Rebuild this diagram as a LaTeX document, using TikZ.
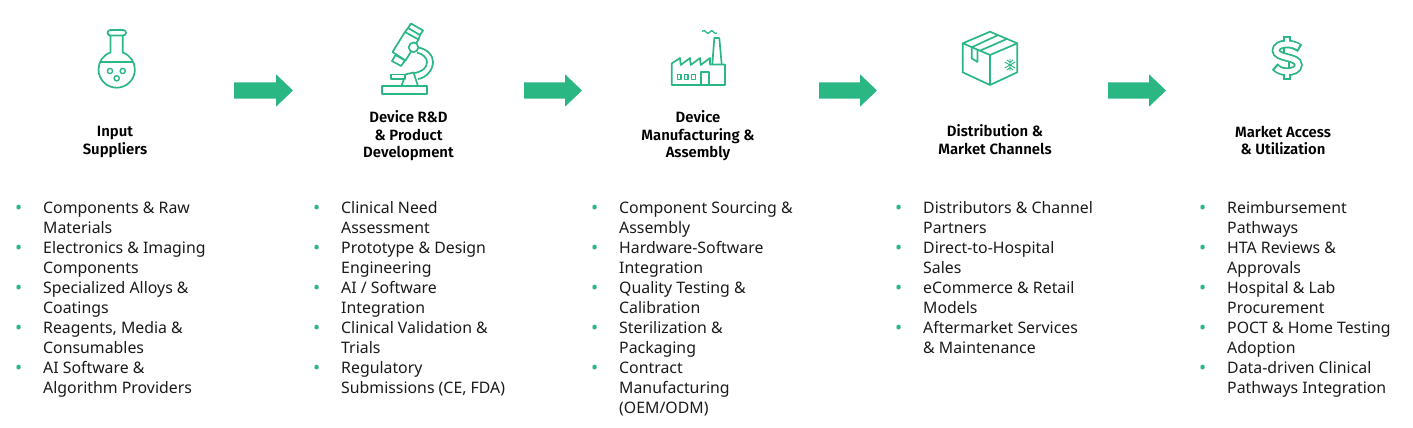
\documentclass[tikz,border=0pt]{standalone}
\usepackage{fontspec}
\setmainfont{Noto Sans}
\newfontfamily\headfont{Fira Sans}[BoldFont={Fira Sans SemiBold}]
\definecolor{tgreen}{HTML}{2BB784}
\definecolor{ink}{HTML}{1A1A1A}
\newcommand{\bl}{\rule{0pt}{16pt}\llap{\makebox[28pt][l]{\textcolor{tgreen}{\fontsize{19}{20}\selectfont\raisebox{-1.2pt}{•}}}}}
\tikzset{
  icon/.style={draw=tgreen,line width=1.7pt,line join=round,fill=none},
  head/.style={font=\fontsize{14.9}{17.5}\headfont\selectfont\bfseries,align=center,text=black,inner sep=0pt},
  lst/.style={font=\fontsize{15.85}{20}\selectfont,align=left,anchor=north west,text=ink,inner sep=0pt},
}
\newcommand{\bigarrow}[2]{\fill[tgreen] (#1,82.3) -- (#2-17,82.3) -- (#2-17,74.3) -- (#2,90.5) -- (#2-17,106.7) -- (#2-17,98.7) -- (#1,98.7) -- cycle;}
\newcommand{\spath}[2]{(#1) .. controls (1295,45) and (1291,44) .. (1287,44) .. controls (1280,44) and (1276,46.5) .. (1276,50.5) .. controls (1276,54.5) and (1281,56) .. (1287,57.5) .. controls (1293,59) and (1298.3,60.5) .. (1298.3,65) .. controls (1298.3,69.5) and (1293,71.7) .. (1287,71.7) .. controls (1282,71.7) and (1278,70) .. (#2)}
\begin{document}
\begin{tikzpicture}[x=1pt,y=-1pt]
\useasboundingbox (0,0) rectangle (1413,428);
% arrows
\bigarrow{234}{293}
\bigarrow{524}{582}
\bigarrow{819}{877}
\bigarrow{1108}{1166}
% flask
\draw[icon,rounded corners=2.8pt] (107.5,30) rectangle (126,35.5);
\draw[icon] (110.5,35.5) -- (110.5,52.5) .. controls (103,55) and (98.5,62) .. (98.5,69.5)
  arc[start angle=180,end angle=0,radius=18.2] .. controls (134.9,62) and (130,55) .. (122.7,52.5) -- (122.7,35.5);
\draw[icon] (100,61.7) -- (133.4,61.7);
\draw[icon,line width=1.4pt] (110,71) circle (2.6) (122.7,71) circle (2.6) (116.7,78.3) circle (2.6);
% microscope
\draw[icon] (381.7,86) rectangle (426.7,94);
\draw[icon] (391,74.5) rectangle (405,79);
\draw[icon] (404,79) -- (401.5,86) (418,86) -- (413.5,72.5) -- (405,74.5);
\draw[icon] (405,32) -- (418.5,39.5) -- (405.5,60.5) -- (392.5,52) -- cycle;
\draw[icon] (411,23.5) -- (423,30.5) -- (420,35) -- (408,28) -- cycle;
\draw[icon] (408,28) -- (405,32) (420,35) -- (418.5,39.5);
\draw[icon] (395.5,55) -- (405,60.5) -- (401,66) -- (392,61) -- cycle;
\draw[icon,fill=white] (413.5,47.3) circle (4.8);
\draw[icon] (418,47.5) .. controls (428,49) and (433,56) .. (433,62) .. controls (433,70) and (426,78) .. (418,79);
\draw[icon] (417,52.5) .. controls (423,54) and (427,58) .. (427,62) .. controls (427,68) and (422,72) .. (414,73);
% factory
\draw[icon] (671.7,85) -- (671.7,63.5) -- (680,58) -- (680.7,65) -- (690,58) -- (690.7,65) -- (700,58) -- (700.7,65) -- (710,58) -- (710,64.5) -- (725,64.5) -- (725,85) -- cycle;
\draw[icon] (712.3,64.5) -- (714.3,38) -- (719.3,38) -- (721.7,64.5);
\draw[icon] (701,85) -- (701,72.3) -- (709,72.3) -- (709,85);
\draw[icon,line width=1.3pt] (677.5,74.5) rectangle (681,79.5) (684.5,74.5) rectangle (688,79.5) (691.7,74.5) rectangle (695.5,79.5);
\draw[icon,line width=1.3pt] (702,31.5) .. controls (703.5,30) and (705,30) .. (706,32) .. controls (707,34) and (708.5,34) .. (710,32) .. controls (711,30) and (712.5,30) .. (713.5,32) .. controls (714.5,34) and (716,33.5) .. (717,33);
% box
\draw[icon] (990,31.7) -- (1017.3,43.3) -- (990,55) -- (962.7,43.3) -- cycle;
\draw[icon] (962.7,43.3) -- (962.7,72.3) -- (990,85) -- (1017.3,72.3) -- (1017.3,43.3);
\draw[icon] (990,55) -- (990,85);
\draw[icon] (971.7,47.3) -- (998.3,35) (980,50.7) -- (1006.7,39);
\draw[icon] (971.7,47.3) -- (971.7,58.3) -- (977.5,62) -- (977.5,49.8);
\draw[icon,line width=.9pt] (1010,59) -- (1010,71) (1004.8,62) -- (1015.2,68) (1004.8,68) -- (1015.2,62) (1007,60) -- (1010,62.5) -- (1013,60) (1007,70) -- (1010,67.5) -- (1013,70);
% dollar
\draw[tgreen,line width=7.4pt] (1286.8,36) -- (1286.8,44) (1286.8,72) -- (1286.8,79.5);
\draw[tgreen,line width=8.6pt] \spath{1300,48.3}{1274.6,66.6};
\draw[white,line width=5pt] \spath{1298.3,46.9}{1276.3,67.9};
\draw[white,line width=4pt] (1286.8,37.6) -- (1286.8,45) (1286.8,71) -- (1286.8,77.9);
\draw[tgreen,line width=1.7pt] (1284.3,47) -- (1284.3,54.5) (1289.3,61) -- (1289.3,69);
% headings
\node[head] (h1) at (115,142) {Input\\Suppliers};
\node[head] (h2) at (408.5,136) {Device R\&D\\\& Product\\Development};
\node[head] (h3) at (698,136) {Device\\Manufacturing \&\\Assembly};
\node[head] (h4) at (995,139.5) {Distribution \&\\Market Channels};
\node[head] (h5) at (1283,140.5) {Market Access\\\& Utilization};
% lists
\node[lst] (l1) at (43,197) {\bl Components \& Raw\\Materials\\\bl Electronics \& Imaging\\Components\\\bl Specialized Alloys \&\\Coatings\\\bl Reagents, Media \&\\Consumables\\\bl AI Software \&\\Algorithm Providers};
\node[lst] (l2) at (341,197) {\bl Clinical Need\\Assessment\\\bl Prototype \& Design\\Engineering\\\bl AI / Software\\Integration\\\bl Clinical Validation \&\\Trials\\\bl Regulatory\\Submissions (CE, FDA)};
\node[lst] (l3) at (619,197) {\bl Component Sourcing \&\\Assembly\\\bl Hardware-Software\\Integration\\\bl Quality Testing \&\\Calibration\\\bl Sterilization \&\\Packaging\\\bl Contract\\Manufacturing\\(OEM/ODM)};
\node[lst] (l4) at (923,197) {\bl Distributors \& Channel\\Partners\\\bl Direct-to-Hospital\\Sales\\\bl eCommerce \& Retail\\Models\\\bl Aftermarket Services\\\& Maintenance};
\node[lst] (l5) at (1227,197) {\bl Reimbursement\\Pathways\\\bl HTA Reviews \&\\Approvals\\\bl Hospital \& Lab\\Procurement\\\bl POCT \& Home Testing\\Adoption\\\bl Data-driven Clinical\\Pathways Integration};
\end{tikzpicture}
\end{document}
